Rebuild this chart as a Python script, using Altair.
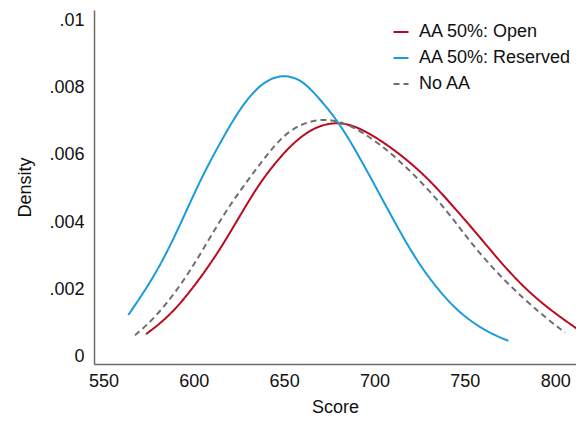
import altair as alt
import pandas as pd

# density curves
open_x = [573.6, 588.7, 607.2, 620.1, 634.8, 647.7, 658.8, 669.9, 680.9, 692.0,
          710.4, 728.9, 743.6, 758.4, 773.2, 791.6, 815.6]
open_y = [.00067, .00129, .00258, .00367, .00505, .00594, .00654, .00689, .00697, .00681,
          .00619, .00535, .00446, .00355, .00258, .00159, .00070]

reserved_x = [563.8, 579.5, 592.4, 603.5, 616.4, 627.4, 638.5, 649.6, 660.0, 669.0,
              680.9, 695.7, 710.4, 725.2, 740.0, 750.0, 762.1, 774.1]
reserved_y = [.00124, .00248, .00390, .00525, .00654, .00753, .00818, .00840, .00822, .00770,
              .00694, .00555, .00406, .00267, .00168, .00118, .00074, .00047]

noaa_x = [567.5, 579.5, 597.9, 616.4, 634.8, 647.7, 658.8, 671.7, 684.6, 703.0,
          721.5, 740.0, 754.7, 773.2, 791.6, 805.5]
noaa_y = [.00064, .00119, .00248, .00426, .00560, .00649, .00692, .00708, .00696, .00634,
          .00545, .00436, .00327, .00218, .00129, .00071]

series = ["AA 50%: Open", "AA 50%: Reserved", "No AA"]
colors = ["#bb0a1e", "#1a9bdb", "#6e6e6e"]
dashes = [[1, 0], [1, 0], [6, 4]]

x_ticks = [550, 600, 650, 700, 750, 800]
y_ticks = [0, .002, .004, .006, .008, .01]

frames = []
for name, xs, ys in zip(series, [open_x, reserved_x, noaa_x], [open_y, reserved_y, noaa_y]):
    frames.append(pd.DataFrame({"score": xs, "density": ys, "series": name}))
df = pd.concat(frames, ignore_index=True)

font = "Liberation Sans"

leg = alt.Legend(orient="none", legendX=298, legendY=13, symbolType="stroke",
                 symbolSize=225, symbolStrokeWidth=2, labelOffset=9, rowPadding=8, padding=0)

chart = alt.Chart(df).mark_line(strokeWidth=2, interpolate="basis", clip=True).encode(
    x=alt.X("score:Q", title="Score",
            scale=alt.Scale(domain=[544.8, 811.5], nice=False, zero=False),
            axis=alt.Axis(values=x_ticks, ticks=False, grid=False, labelPadding=8,
                          titlePadding=8, domainColor="#6b6b6b", domainWidth=1.5)),
    y=alt.Y("density:Q", title="Density",
            scale=alt.Scale(domain=[-0.000217, 0.0103], nice=False, zero=False),
            axis=alt.Axis(values=y_ticks, ticks=False, grid=False, labelPadding=10,
                          titlePadding=14, domainColor="#6b6b6b", domainWidth=1.5,
                          labelExpr="datum.value == 0 ? '0' : substring(format(datum.value, '.3~f'), 1)")),
    color=alt.Color("series:N", title=None,
                    scale=alt.Scale(domain=series, range=colors), legend=leg),
    strokeDash=alt.StrokeDash("series:N", title=None,
                              scale=alt.Scale(domain=series, range=dashes), legend=leg),
).properties(
    width=482,
    height=354,
    autosize=alt.AutoSizeParams(type="none"),
    padding={"left": 86, "top": 2, "right": 0, "bottom": 56},
).configure_view(
    stroke=None
).configure_axis(
    labelFont=font, titleFont=font, labelFontSize=18, titleFontSize=18,
    labelColor="#111111", titleColor="#111111", titleFontWeight="normal"
).configure_legend(
    labelFont=font, labelFontSize=18, labelColor="#111111"
)

chart.save("out.html", embed_options={"renderer": "svg", "actions": False})
